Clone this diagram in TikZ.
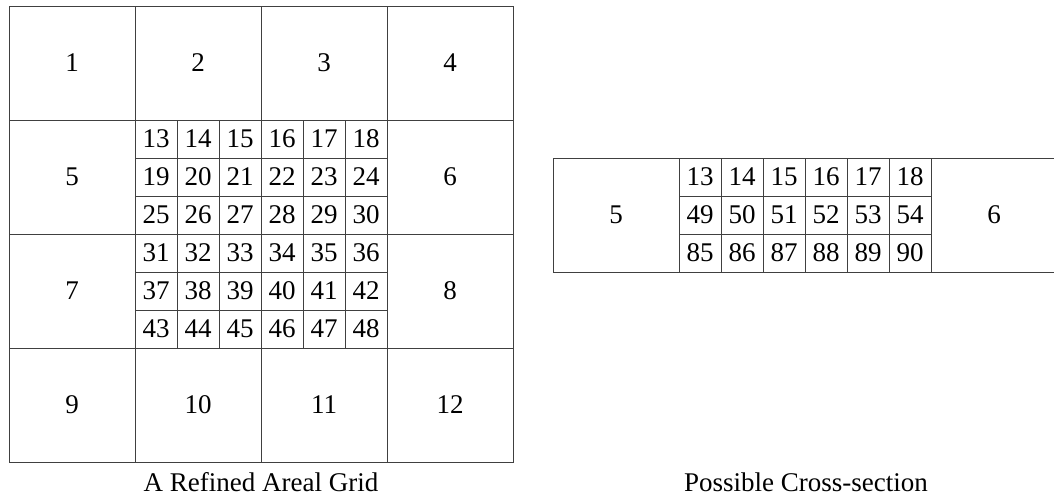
\documentclass[tikz,border=0pt]{standalone}
\usepackage{fontspec}
\setmainfont{Liberation Serif}
\begin{document}
\begin{tikzpicture}[x=1pt,y=-1pt,
  cell/.style={draw=black!75, line width=1pt, inner sep=0pt, font=\fontsize{27}{27}\selectfont, text=black},
  big/.style={cell, minimum width=126pt, minimum height=114pt},
  fine/.style={cell, minimum width=42pt, minimum height=38pt},
  captiontext/.style={inner sep=0pt, anchor=base, font=\fontsize{27}{27}\selectfont}]
\useasboundingbox (0,0) rectangle (1054,501);
% left: coarse cells
\node[big] (b1) at (72,63) {1};
\node[big] (b2) at (198,63) {2};
\node[big] (b3) at (324,63) {3};
\node[big] (b4) at (450,63) {4};
\node[big] (b5) at (72,177) {5};
\node[big] (b6) at (450,177) {6};
\node[big] (b7) at (72,291) {7};
\node[big] (b8) at (450,291) {8};
\node[big] (b9) at (72,405) {9};
\node[big] (b10) at (198,405) {10};
\node[big] (b11) at (324,405) {11};
\node[big] (b12) at (450,405) {12};
% left: refined cells
\foreach \j in {0,...,5}{
  \foreach \i in {0,...,5}{
    \pgfmathtruncatemacro{\n}{13+6*\j+\i}
    \node[fine] (f\n) at ({156+42*\i},{139+38*\j}) {\n};
  }
}
\node[captiontext] (capL) at (261,491) {A Refined Areal Grid};
% right: cross-section
\node[big] (r5) at (616,215) {5};
\node[big] (r6) at (994,215) {6};
\foreach \j in {0,1,2}{
  \foreach \i in {0,...,5}{
    \pgfmathtruncatemacro{\n}{13+36*\j+\i}
    \node[fine] (rf\n) at ({700+42*\i},{177+38*\j}) {\n};
  }
}
\node[captiontext] (capR) at (806,491) {Possible Cross-section};
\end{tikzpicture}
\end{document}
